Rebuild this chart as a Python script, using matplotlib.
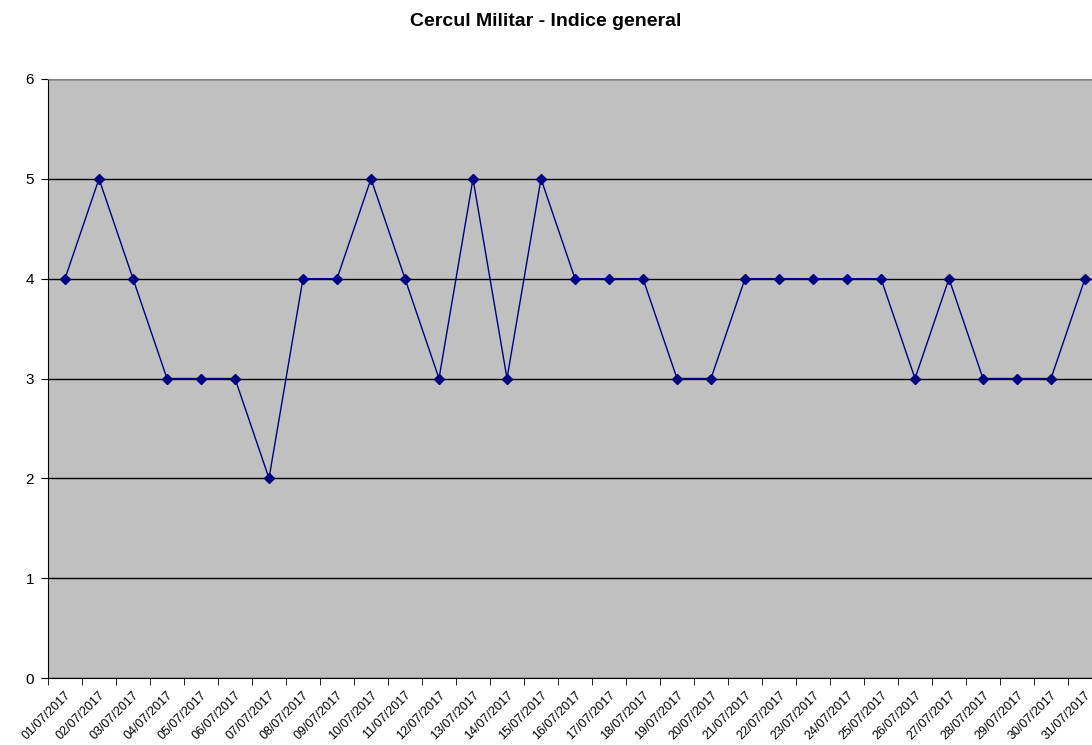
import matplotlib.pyplot as plt
import matplotlib.transforms as mtransforms
import numpy as np

plt.rcParams['font.family'] = ['Liberation Sans', 'DejaVu Sans']

# daily index values, July 2017
dates = ['%02d/07/2017' % d for d in range(1, 32)]
values = [4, 5, 4, 3, 3, 3, 2, 4, 4, 5, 4, 3, 5, 3, 5, 4,
          4, 4, 3, 3, 4, 4, 4, 4, 4, 3, 4, 3, 3, 3, 4]

fig = plt.figure(figsize=(10.92, 7.45), dpi=100)
ax = fig.add_axes([48 / 1092, 1 - 678 / 745, 1054 / 1092, 599 / 745])
ax.set_facecolor('#C0C0C0')

x = np.arange(len(values))
ax.plot(x, values, color='#000080', linewidth=1, marker='D', markersize=5,
        markerfacecolor='#000080', markeredgecolor='#000080', zorder=3)

ax.set_xlim(-0.5, len(values) - 0.5)
ax.set_ylim(0, 6)
ax.set_yticks(range(0, 7))
ax.yaxis.grid(True, color='black', linewidth=1)
ax.set_axisbelow(True)

ax.set_xticks(x)
ax.set_xticklabels(dates, rotation=45, ha='right', rotation_mode='anchor', fontsize=9)
shift = mtransforms.ScaledTranslation(-4 / 100, 0, fig.dpi_scale_trans)
for lbl in ax.get_xticklabels():
    lbl.set_transform(lbl.get_transform() + shift)
ax.set_xticks(np.arange(-0.5, len(values), 1), minor=True)
ax.tick_params(axis='x', which='major', length=0, pad=8)
ax.tick_params(axis='x', which='minor', length=5, color='black', direction='out')
ax.tick_params(axis='y', length=5, labelsize=11, color='black', pad=5)

ax.spines['top'].set_color('#808080')
ax.spines['right'].set_visible(False)
ax.spines['left'].set_color('black')
ax.spines['bottom'].set_color('black')

fig.text(0.5, 1 - 22 / 745, 'Cercul Militar - Indice general', ha='center', va='center',
         fontsize=14, fontweight='bold')

fig.savefig('out.png', dpi=100)
